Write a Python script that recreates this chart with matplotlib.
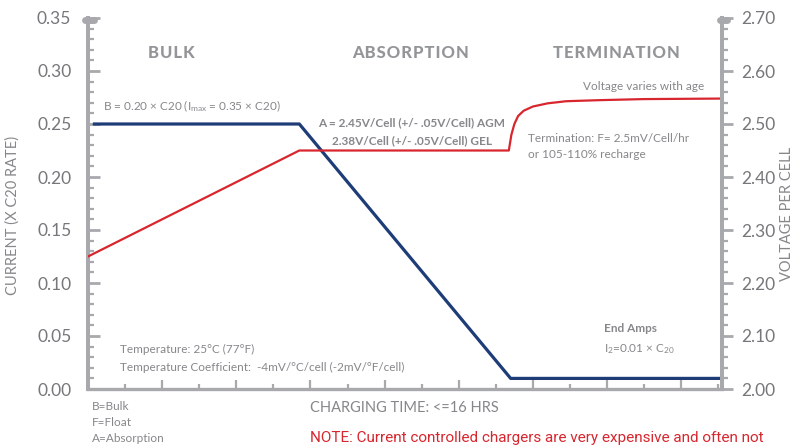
import matplotlib
matplotlib.use("Agg")
import matplotlib.pyplot as plt
from matplotlib.ticker import MultipleLocator, FormatStrFormatter

plt.rcParams['font.family'] = ['Lato', 'DejaVu Sans']
plt.rcParams['mathtext.fontset'] = 'custom'
plt.rcParams['mathtext.rm'] = 'Lato'
plt.rcParams['mathtext.it'] = 'Lato:italic'
plt.rcParams['mathtext.bf'] = 'Lato:bold'

# charging time in hours, current in x C20, voltage per cell
current_t = [0.13, 5.7, 11.4, 17.1]
current_i = [0.25, 0.25, 0.01, 0.01]

voltage_t = [0.0, 5.7, 11.35, 11.42, 11.5, 11.6, 11.75, 12.0, 12.4, 12.9, 13.8, 15.0, 17.1]
voltage_v = [2.25, 2.45, 2.45, 2.48, 2.50, 2.515, 2.525, 2.533, 2.539, 2.543, 2.545, 2.547, 2.548]

phases = ['BULK', 'ABSORPTION', 'TERMINATION']

W, H = 794, 445
GRAY = '#a7a9ac'
TXT = '#86878a'
TICK = '#76777a'
BLUE = '#1d3c78'
RED = '#d7262e'

fig = plt.figure(figsize=(W / 100, H / 100), dpi=100)
ax = fig.add_axes([88 / W, 1 - 389 / H, (722 - 88) / W, (389 - 18) / H])
ax2 = ax.twinx()

def px(x, y):
    return x / W, 1 - y / H

ax.plot(current_t, current_i, color=BLUE, lw=2.3, solid_capstyle='butt', zorder=3)
ax2.plot(voltage_t, voltage_v, color=RED, lw=1.6, zorder=2)

ax.set_xlim(0, 17.1)
ax.set_ylim(0, 0.35)
ax2.set_ylim(2.0, 2.7)

for a in (ax, ax2):
    a.patch.set_visible(False)
    a.spines['top'].set_visible(False)
ax.spines['right'].set_visible(False)
ax2.spines['left'].set_visible(False)
ax2.spines['bottom'].set_visible(False)
ax.spines['left'].set_linewidth(2.9)
ax.spines['left'].set_color(GRAY)
ax.spines['bottom'].set_linewidth(2.4)
ax.spines['bottom'].set_color(GRAY)
ax2.spines['right'].set_linewidth(2.9)
ax2.spines['right'].set_color(GRAY)

ax.yaxis.set_major_locator(MultipleLocator(0.05))
ax.yaxis.set_minor_locator(MultipleLocator(0.01))
ax.yaxis.set_major_formatter(FormatStrFormatter('%.2f'))
ax2.yaxis.set_major_locator(MultipleLocator(0.1))
ax2.yaxis.set_minor_locator(MultipleLocator(0.02))
ax2.yaxis.set_major_formatter(FormatStrFormatter('%.2f'))
ax.xaxis.set_major_locator(MultipleLocator(2))
ax.xaxis.set_minor_locator(MultipleLocator(1))
ax.set_xticklabels([])
ax.tick_params(axis='x', which='major', direction='in', length=6.5, width=1.6, color=GRAY)
ax.tick_params(axis='x', which='minor', direction='in', length=3.6, width=1.6, color=GRAY)
ax.tick_params(axis='y', which='major', direction='in', length=8.6, width=2.0, color=GRAY,
               labelsize=12.5, labelcolor=TICK, pad=12)
ax.tick_params(axis='y', which='minor', direction='in', length=4.6, width=1.6, color=GRAY)
ax2.tick_params(axis='y', which='major', direction='out', length=8.0, width=2.0, color=GRAY,
                labelsize=12.5, labelcolor=TICK, pad=6)
ax2.tick_params(axis='y', which='minor', direction='out', length=4.3, width=1.6, color=GRAY)

# rounded caps on top of the vertical axes
for x0, x1 in ((84.5, 93.5), (719.5, 726.5)):
    fig.add_artist(plt.Line2D([x0 / 100, x1 / 100], [(H - 19.5) / 100] * 2,
                              transform=fig.dpi_scale_trans, color=GRAY, lw=5.0,
                              solid_capstyle='round'))

# axis labels
fig.text(*px(13, 215), 'CURRENT (X C20 RATE)', rotation=90, ha='center', va='center',
         fontsize=10.5, color=TXT)
fig.text(*px(787, 214), 'VOLTAGE PER CELL', rotation=90, ha='center', va='center',
         fontsize=10.5, color=TXT)
fig.text(*px(404, 408), 'CHARGING TIME: <=16 HRS', ha='center', va='center',
         fontsize=10.5, color=TXT)

# phase titles, letter-spaced with hair spaces
for x, s in zip((171, 411, 616), phases):
    fig.text(*px(x, 53), '\u200a'.join(s), ha='center', va='center', fontsize=12,
             fontweight='black', color='#939598')

fig.text(*px(103, 106), r'B = 0.20 × C20 (I$_{\mathrm{max}}$ = 0.35 × C20)', ha='left',
         va='center', fontsize=8.5, color=TXT)
fig.text(*px(412, 123), 'A = 2.45V/Cell (+/- .05V/Cell) AGM', ha='center', va='center',
         fontsize=8.5, fontweight='bold', color=TXT)
fig.text(*px(412, 141), '2.38V/Cell (+/- .05V/Cell) GEL', ha='center', va='center',
         fontsize=8.5, fontweight='bold', color=TXT)
fig.text(*px(704, 86), 'Voltage varies with age', ha='right', va='center',
         fontsize=8.5, color=TXT)
fig.text(*px(528, 138), 'Termination: F= 2.5mV/Cell/hr', ha='left', va='center',
         fontsize=8.5, color=TXT)
fig.text(*px(528, 155), 'or 105-110% recharge', ha='left', va='center',
         fontsize=8.5, color=TXT)
fig.text(*px(120, 349), 'Temperature: 25°C (77°F)', ha='left', va='center',
         fontsize=8.5, color=TXT)
fig.text(*px(120, 367), 'Temperature Coefficient:  -4mV/°C/cell (-2mV/°F/cell)', ha='left',
         va='center', fontsize=8.5, color=TXT)
fig.text(*px(604, 329), 'End Amps', ha='left', va='center', fontsize=8.5,
         fontweight='bold', color=TXT)
fig.text(*px(604, 349), r'I$_2$=0.01 × C$_{20}$', ha='left', va='center',
         fontsize=8.5, color=TXT)

for y, s in ((407, 'B=Bulk'), (423, 'F=Float'), (439, 'A=Absorption')):
    fig.text(*px(92, y), s, ha='left', va='center', fontsize=8.5, color=TXT)

fig.text(*px(310, 438), 'NOTE: Current controlled chargers are very expensive and often not',
         ha='left', va='center', fontsize=11,
         family=['Roboto', 'DejaVu Sans'], color=RED)

fig.savefig('out.png', dpi=100)
